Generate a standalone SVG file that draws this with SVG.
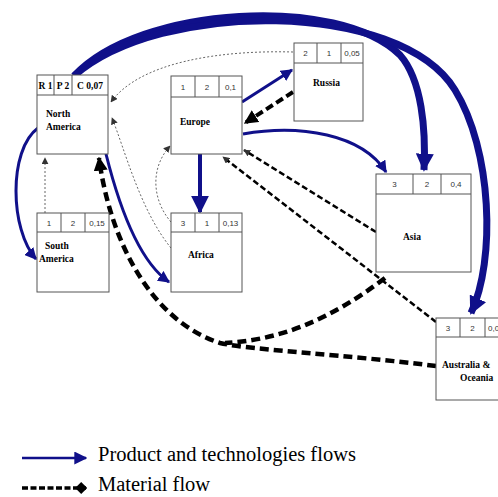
<svg xmlns="http://www.w3.org/2000/svg" width="498" height="497" viewBox="0 0 498 497">
<style>
.box{fill:#fff;stroke:#555;stroke-width:1}
.hd{font-family:"Liberation Sans",Arial,sans-serif;font-size:8px;fill:#333;text-anchor:middle}
.hdb{font-family:"Liberation Serif","Times New Roman",serif;font-size:9.5px;font-weight:bold;fill:#000;text-anchor:middle}
.lb{font-family:"Liberation Serif","Times New Roman",serif;font-size:9.5px;font-weight:bold;fill:#000}
.blue{fill:none;stroke:#10108a}
.mat{fill:none;stroke:#000}
.dot{fill:none;stroke:#666;stroke-width:1;stroke-dasharray:2 2}
.leg{font-family:"Liberation Serif","Times New Roman",serif;font-size:20.5px;fill:#000}
</style>
<defs>
<marker id="ab" viewBox="0 0 10 10" refX="9" refY="5" markerWidth="12" markerHeight="12" markerUnits="userSpaceOnUse" orient="auto"><path d="M0,0 L10,5 L0,10 z" fill="#10108a"/></marker>
<marker id="abL" viewBox="0 0 10 10" refX="9" refY="5" markerWidth="18" markerHeight="18" markerUnits="userSpaceOnUse" orient="auto"><path d="M0,0 L10,5 L0,10 z" fill="#10108a"/></marker>
<marker id="abS" viewBox="0 0 10 10" refX="9" refY="5" markerWidth="13" markerHeight="13" markerUnits="userSpaceOnUse" orient="auto"><path d="M0,0 L10,5 L0,10 z" fill="#10108a"/></marker>
<marker id="ak" viewBox="0 0 10 10" refX="9" refY="5" markerWidth="14" markerHeight="14" markerUnits="userSpaceOnUse" orient="auto"><path d="M0,0 L10,5 L0,10 z" fill="#000"/></marker>
<marker id="akD" viewBox="0 0 10 10" refX="9" refY="5" markerWidth="12" markerHeight="12" markerUnits="userSpaceOnUse" orient="auto"><path d="M0,5 L5,0 L10,5 L5,10 z" fill="#000"/></marker>
<marker id="ad" viewBox="0 0 10 10" refX="9" refY="5" markerWidth="7" markerHeight="7" markerUnits="userSpaceOnUse" orient="auto"><path d="M0,0 L10,5 L0,10 z" fill="#333"/></marker>
</defs>

<g id="connectors">
<!-- thin dotted -->
<path class="dot" d="M45 213 L45 158" marker-end="url(#ad)"/>
<path class="dot" d="M293 52 C220 50 140 62 111 102" marker-end="url(#ad)"/>
<path class="dot" d="M171 248 C140 210 125 150 112 118" marker-end="url(#ad)"/>
<path class="dot" d="M171 222 C152 200 150 168 170 146" marker-end="url(#ad)"/>
<!-- blue flows -->
<path class="blue" stroke-width="7" d="M74 76 C140 5 340 -5 400 55 C422 80 426 130 424 170" marker-end="url(#abL)"/>
<path class="blue" stroke-width="7" d="M74 76 C160 0 400 0 455 90 C492 150 496 260 471 313" marker-end="url(#abL)"/>
<path class="blue" stroke-width="3" d="M38 128 C8 150 10 230 36 259" marker-end="url(#ab)"/>
<path class="blue" stroke-width="3" d="M106 154 C120 210 140 262 169 282" marker-end="url(#ab)"/>
<path class="blue" stroke-width="3" d="M242 102 L292 70" marker-end="url(#ab)"/>
<path class="blue" stroke-width="3" d="M243 134 C300 124 362 134 386 172" marker-end="url(#ab)"/>
<path class="blue" stroke-width="4" d="M200 154 L200 212" marker-end="url(#abL)"/>
<!-- material flows -->
<path class="mat" stroke-width="4" stroke-dasharray="8 4" d="M293 92 L245 123" marker-end="url(#ak)"/>
<path class="mat" stroke-width="2.5" stroke-dasharray="6 3" d="M376 232 L244 150" marker-end="url(#ad)"/>
<path class="mat" stroke-width="2.5" stroke-dasharray="6 3" d="M436 322 L223 157" marker-end="url(#ad)"/>
<path class="mat" stroke-width="4.5" stroke-dasharray="9 5" d="M385 278 C330 320 280 340 225 343"/>
<path class="mat" stroke-width="4.5" stroke-dasharray="9 5" d="M436 366 C350 355 250 350 220 343 C150 320 110 240 99 158" marker-end="url(#ak)"/>
</g>

<g id="north-america">
<rect class="box" x="37" y="75" width="71" height="79"/>
<line class="box" x1="37" y1="95" x2="108" y2="95"/>
<line class="box" x1="54" y1="75" x2="54" y2="95"/>
<line class="box" x1="72" y1="75" x2="72" y2="95"/>
<text class="hdb" x="45.5" y="89">R 1</text>
<text class="hdb" x="63" y="89">P 2</text>
<text class="hdb" x="90" y="89">C 0,07</text>
<text class="lb" x="46" y="117">North</text>
<text class="lb" x="46" y="130">America</text>
</g>

<g id="europe">
<rect class="box" x="171" y="76" width="71" height="78"/>
<line class="box" x1="171" y1="97" x2="242" y2="97"/>
<line class="box" x1="195" y1="76" x2="195" y2="97"/>
<line class="box" x1="219" y1="76" x2="219" y2="97"/>
<text class="hd" x="183" y="90">1</text>
<text class="hd" x="207" y="90">2</text>
<text class="hd" x="230.5" y="90">0,1</text>
<text class="lb" x="180" y="125">Europe</text>
</g>

<g id="russia">
<rect class="box" x="294" y="43" width="69" height="78"/>
<line class="box" x1="294" y1="63" x2="363" y2="63"/>
<line class="box" x1="317" y1="43" x2="317" y2="63"/>
<line class="box" x1="341" y1="43" x2="341" y2="63"/>
<text class="hd" x="305.5" y="56">2</text>
<text class="hd" x="329" y="56">1</text>
<text class="hd" x="352" y="56">0,05</text>
<text class="lb" x="313" y="86">Russia</text>
</g>

<g id="asia">
<rect class="box" x="376" y="174" width="95" height="98"/>
<line class="box" x1="376" y1="194" x2="471" y2="194"/>
<line class="box" x1="413" y1="174" x2="413" y2="194"/>
<line class="box" x1="441" y1="174" x2="441" y2="194"/>
<text class="hd" x="394.5" y="187">3</text>
<text class="hd" x="427" y="187">2</text>
<text class="hd" x="456" y="187">0,4</text>
<text class="lb" x="403" y="240">Asia</text>
</g>

<g id="south-america">
<rect class="box" x="37" y="213" width="72" height="79"/>
<line class="box" x1="37" y1="232" x2="109" y2="232"/>
<line class="box" x1="61" y1="213" x2="61" y2="232"/>
<line class="box" x1="85" y1="213" x2="85" y2="232"/>
<text class="hd" x="49" y="226">1</text>
<text class="hd" x="73" y="226">2</text>
<text class="hd" x="97" y="226">0,15</text>
<text class="lb" x="45" y="249">South</text>
<text class="lb" x="39" y="262">America</text>
</g>

<g id="africa">
<rect class="box" x="171" y="213" width="71" height="79"/>
<line class="box" x1="171" y1="232" x2="242" y2="232"/>
<line class="box" x1="195" y1="213" x2="195" y2="232"/>
<line class="box" x1="219" y1="213" x2="219" y2="232"/>
<text class="hd" x="183" y="226">3</text>
<text class="hd" x="207" y="226">1</text>
<text class="hd" x="230.5" y="226">0,13</text>
<text class="lb" x="188" y="258">Africa</text>
</g>

<g id="australia-oceania">
<rect class="box" x="436" y="318" width="70" height="82"/>
<line class="box" x1="436" y1="337" x2="506" y2="337"/>
<line class="box" x1="460" y1="318" x2="460" y2="337"/>
<line class="box" x1="485" y1="318" x2="485" y2="337"/>
<text class="hd" x="448" y="331">3</text>
<text class="hd" x="472.5" y="331">2</text>
<text class="hd" x="488" y="331" style="text-anchor:start">0,0</text>
<text class="lb" x="442" y="368">Australia &amp;</text>
<text class="lb" x="460" y="381">Oceania</text>
</g>

<g id="legend">
<line class="blue" stroke-width="2.5" x1="22" y1="458" x2="86" y2="458" marker-end="url(#abS)"/>
<text class="leg" x="98" y="461">Product and technologies flows</text>
<line class="mat" stroke-width="3.5" stroke-dasharray="6 2.5" x1="22" y1="488" x2="86" y2="488" marker-end="url(#akD)"/>
<text class="leg" x="98" y="491">Material flow</text>
</g>
</svg>
